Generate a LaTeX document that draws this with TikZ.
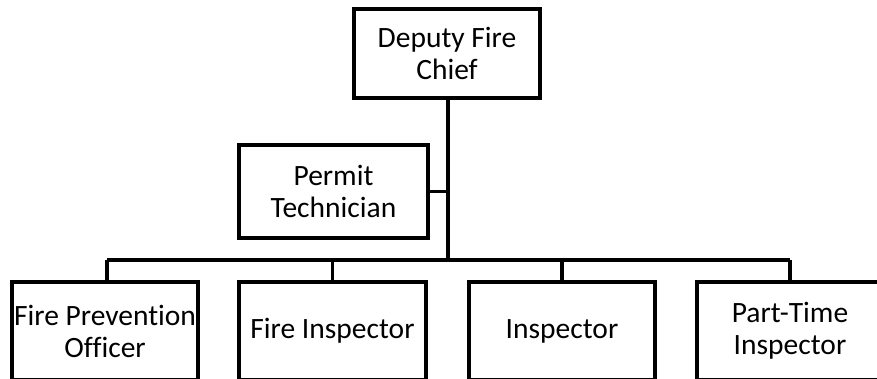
\documentclass[tikz,border=0pt]{standalone}
\usepackage{fontspec}
\setmainfont{Carlito}[Ligatures=NoCommon]
\begin{document}
\begin{tikzpicture}[x=1pt,y=-1pt,
  post/.style={draw=black,line width=4.5pt,fill=white,align=center,inner sep=0pt,
    font=\fontsize{29.5}{32}\selectfont},
  link/.style={draw=black,line width=3.2pt}]
\useasboundingbox (0,0) rectangle (877,379);
\clip (0,0) rectangle (877,379);
% reporting lines
\coordinate (bus) at (448,260);
\coordinate (busL) at (107,260);
\coordinate (busR) at (790,260);
\node[post,minimum width=186pt,minimum height=89pt] (chief) at (447,53.5) {Deputy Fire\\Chief};
\node[post,minimum width=189pt,minimum height=93pt] (permit) at (333.5,191.5) {Permit\\Technician};
\draw[link] (chief.south -| bus) -- (bus);
\draw[link] (permit.east) -- (permit.east -| bus);
\draw[link] (busL) -- (busR);
% staff positions
\node[post,minimum width=186pt,minimum height=98pt] (fpo) at (105,331) {Fire Prevention\\Officer};
\node[post,minimum width=187pt,minimum height=98pt] (fi) at (332.5,331) {Fire Inspector};
\node[post,minimum width=186pt,minimum height=98pt] (insp) at (562,331) {Inspector};
\node[post,minimum width=186pt,minimum height=98pt] (pt) at (790,331) {Part-Time\\Inspector};
\draw[link] (busL) -- (busL |- fpo.north);
\draw[link] (fi.north |- bus) -- (fi.north);
\draw[link] (insp.north |- bus) -- (insp.north);
\draw[link] (busR) -- (pt.north);
\end{tikzpicture}
\end{document}
